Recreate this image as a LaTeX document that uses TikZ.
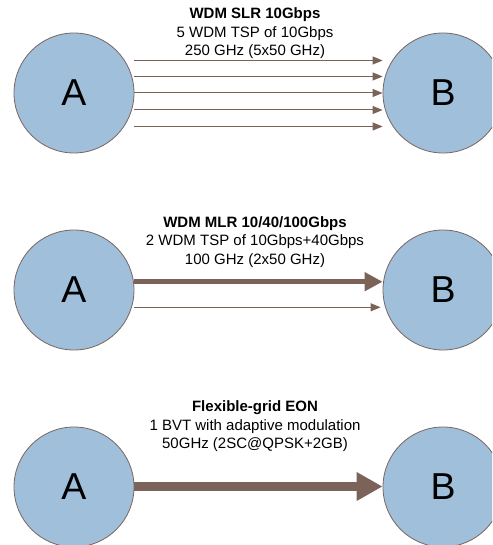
\documentclass[tikz,border=0pt]{standalone}
\usepackage{fontspec}
\setmainfont{Liberation Sans}
\usetikzlibrary{arrows.meta,calc}
\definecolor{nodefill}{HTML}{9FBFDA}
\definecolor{nodeline}{HTML}{7A6660}
\definecolor{arrowc}{HTML}{7B6359}
\tikzset{
  endpoint/.style={circle, draw=nodeline, line width=0.8pt, fill=nodefill, minimum size=120pt, inner sep=0pt, font=\fontsize{37.5}{40}\selectfont},
  label/.style={align=center, inner sep=0pt, font=\fontsize{15}{18.5}\selectfont},
  thinarrow/.style={draw=arrowc, line width=1pt, -{Triangle[length=10pt,width=8pt]}},
  midarrow/.style={draw=arrowc, line width=5pt, -{Triangle[length=18pt,width=18pt]}},
  bigarrow/.style={draw=arrowc, line width=9pt, -{Triangle[length=26pt,width=27pt]}}
}
\begin{document}
\begin{tikzpicture}[x=1pt,y=-1pt]
\useasboundingbox (0,0) rectangle (492,545);
\clip (0,0) rectangle (492,545);
% row 1
\node[endpoint] (A1) at (74,93) {A};
\node[endpoint] (B1) at (443,93) {B};
\node[label] (L1) at (255,33.5) {\textbf{WDM SLR 10Gbps}\\5 WDM TSP of 10Gbps\\250 GHz (5x50 GHz)};
\foreach \dy in {-32.5,-16.5,0,17,33.5}{
  \draw[thinarrow] ($(A1.east)+(0,\dy)$) -- ($(B1.west)+(0,\dy)$);
}
% row 2
\node[endpoint] (A2) at (74,290) {A};
\node[endpoint] (B2) at (443,290) {B};
\node[label] (L2) at (255,242) {\textbf{WDM MLR 10/40/100Gbps}\\2 WDM TSP of 10Gbps+40Gbps\\100 GHz (2x50 GHz)};
\draw[midarrow] ($(A2.east)+(0,-8.3)$) -- ($(B2.west)+(0,-8.3)$);
\draw[thinarrow] ($(A2.east)+(0,17.3)$) -- ($(B2.west)+(-2,17.3)$);
% row 3
\node[endpoint] (A3) at (74,487) {A};
\node[endpoint] (B3) at (443,487) {B};
\node[label] (L3) at (255,426.5) {\textbf{Flexible-grid EON}\\1 BVT with adaptive modulation\\50GHz (2SC@QPSK+2GB)};
\draw[bigarrow] ($(A3.east)+(0,-0.5)$) -- ($(B3.west)+(0,-0.5)$);
\end{tikzpicture}
\end{document}
